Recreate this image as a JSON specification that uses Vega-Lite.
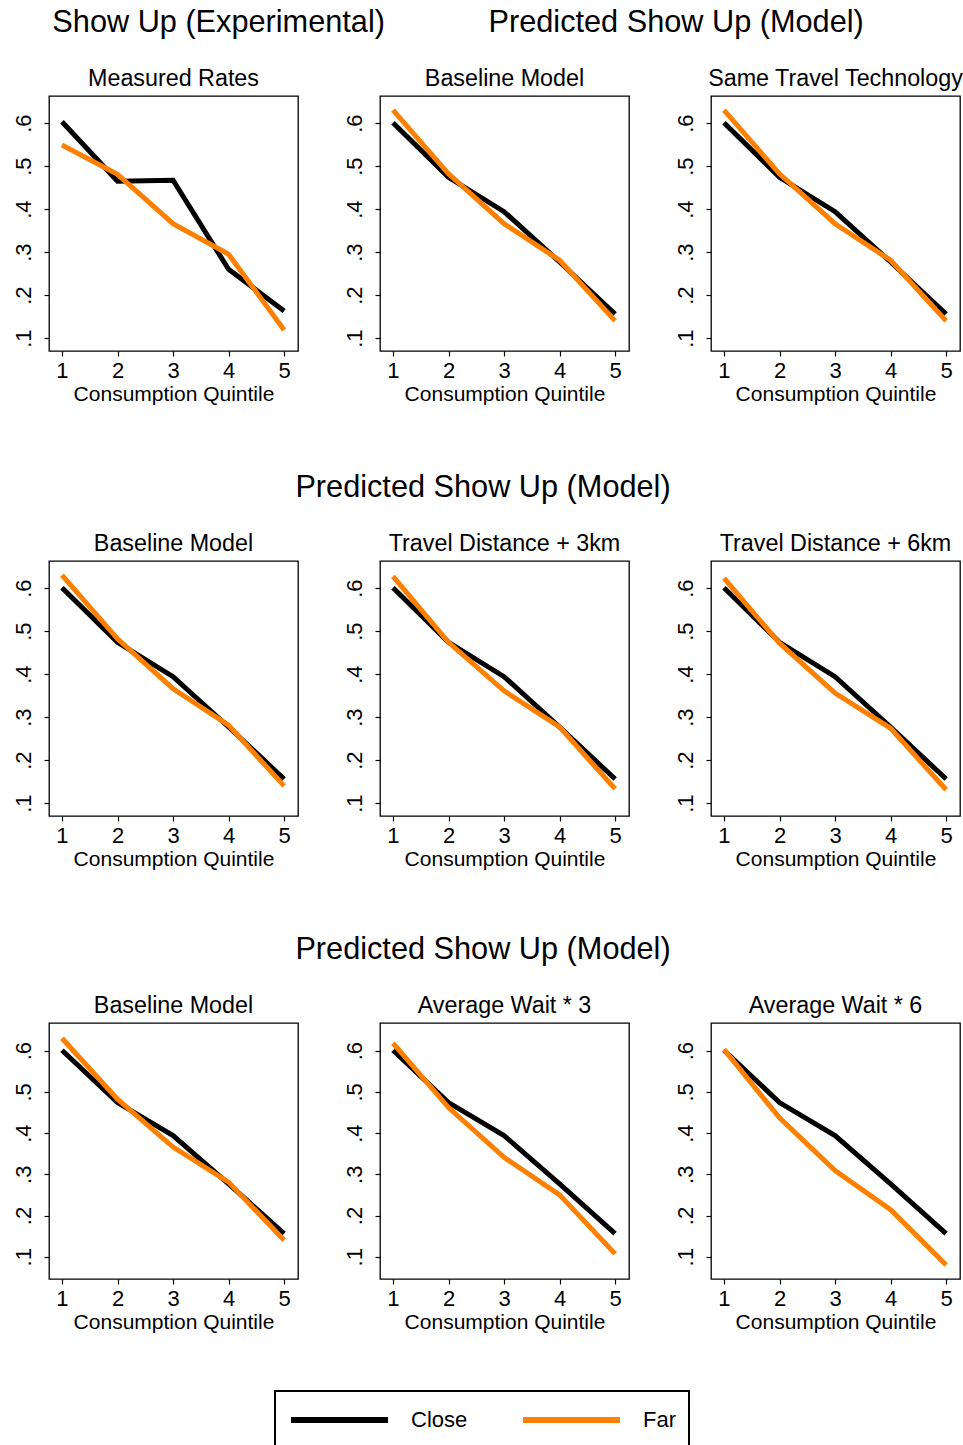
{
  "$schema": "https://vega.github.io/schema/vega-lite/v6.json",
  "background": "white",
  "padding": {"left": 11, "top": 6, "right": 0, "bottom": 0},
  "config": {
    "font": "Liberation Sans",
    "view": {"stroke": "black", "strokeWidth": 1.3},
    "axis": {"grid": false, "domain": false, "tickColor": "black", "tickSize": 5, "tickWidth": 1.2, "labelColor": "black", "labelFontSize": 22, "titleFontSize": 21, "titleFontWeight": "normal", "titleColor": "black", "labelFont": "Liberation Sans", "titleFont": "Liberation Sans"},
    "title": {"color": "black", "fontWeight": "normal", "font": "Liberation Sans"},
    "legend": {"labelFont": "Liberation Sans", "strokeWidth": 2}
  },
  "data": {"values": [
    {"panel": "r1c1", "location": "Close", "quintile": 1, "rate": 0.603},
    {"panel": "r1c1", "location": "Close", "quintile": 2, "rate": 0.465},
    {"panel": "r1c1", "location": "Close", "quintile": 3, "rate": 0.467},
    {"panel": "r1c1", "location": "Close", "quintile": 4, "rate": 0.260},
    {"panel": "r1c1", "location": "Close", "quintile": 5, "rate": 0.163},
    {"panel": "r1c1", "location": "Far", "quintile": 1, "rate": 0.549},
    {"panel": "r1c1", "location": "Far", "quintile": 2, "rate": 0.481},
    {"panel": "r1c1", "location": "Far", "quintile": 3, "rate": 0.366},
    {"panel": "r1c1", "location": "Far", "quintile": 4, "rate": 0.295},
    {"panel": "r1c1", "location": "Far", "quintile": 5, "rate": 0.119},

    {"panel": "r1c2", "location": "Close", "quintile": 1, "rate": 0.601},
    {"panel": "r1c2", "location": "Close", "quintile": 2, "rate": 0.474},
    {"panel": "r1c2", "location": "Close", "quintile": 3, "rate": 0.394},
    {"panel": "r1c2", "location": "Close", "quintile": 4, "rate": 0.277},
    {"panel": "r1c2", "location": "Close", "quintile": 5, "rate": 0.156},
    {"panel": "r1c2", "location": "Far", "quintile": 1, "rate": 0.630},
    {"panel": "r1c2", "location": "Far", "quintile": 2, "rate": 0.482},
    {"panel": "r1c2", "location": "Far", "quintile": 3, "rate": 0.366},
    {"panel": "r1c2", "location": "Far", "quintile": 4, "rate": 0.281},
    {"panel": "r1c2", "location": "Far", "quintile": 5, "rate": 0.140},

    {"panel": "r1c3", "location": "Close", "quintile": 1, "rate": 0.601},
    {"panel": "r1c3", "location": "Close", "quintile": 2, "rate": 0.474},
    {"panel": "r1c3", "location": "Close", "quintile": 3, "rate": 0.394},
    {"panel": "r1c3", "location": "Close", "quintile": 4, "rate": 0.277},
    {"panel": "r1c3", "location": "Close", "quintile": 5, "rate": 0.156},
    {"panel": "r1c3", "location": "Far", "quintile": 1, "rate": 0.630},
    {"panel": "r1c3", "location": "Far", "quintile": 2, "rate": 0.482},
    {"panel": "r1c3", "location": "Far", "quintile": 3, "rate": 0.366},
    {"panel": "r1c3", "location": "Far", "quintile": 4, "rate": 0.281},
    {"panel": "r1c3", "location": "Far", "quintile": 5, "rate": 0.140},

    {"panel": "r2c1", "location": "Close", "quintile": 1, "rate": 0.601},
    {"panel": "r2c1", "location": "Close", "quintile": 2, "rate": 0.474},
    {"panel": "r2c1", "location": "Close", "quintile": 3, "rate": 0.394},
    {"panel": "r2c1", "location": "Close", "quintile": 4, "rate": 0.277},
    {"panel": "r2c1", "location": "Close", "quintile": 5, "rate": 0.156},
    {"panel": "r2c1", "location": "Far", "quintile": 1, "rate": 0.630},
    {"panel": "r2c1", "location": "Far", "quintile": 2, "rate": 0.482},
    {"panel": "r2c1", "location": "Far", "quintile": 3, "rate": 0.366},
    {"panel": "r2c1", "location": "Far", "quintile": 4, "rate": 0.281},
    {"panel": "r2c1", "location": "Far", "quintile": 5, "rate": 0.140},

    {"panel": "r2c2", "location": "Close", "quintile": 1, "rate": 0.601},
    {"panel": "r2c2", "location": "Close", "quintile": 2, "rate": 0.474},
    {"panel": "r2c2", "location": "Close", "quintile": 3, "rate": 0.394},
    {"panel": "r2c2", "location": "Close", "quintile": 4, "rate": 0.277},
    {"panel": "r2c2", "location": "Close", "quintile": 5, "rate": 0.156},
    {"panel": "r2c2", "location": "Far", "quintile": 1, "rate": 0.627},
    {"panel": "r2c2", "location": "Far", "quintile": 2, "rate": 0.474},
    {"panel": "r2c2", "location": "Far", "quintile": 3, "rate": 0.361},
    {"panel": "r2c2", "location": "Far", "quintile": 4, "rate": 0.277},
    {"panel": "r2c2", "location": "Far", "quintile": 5, "rate": 0.133},

    {"panel": "r2c3", "location": "Close", "quintile": 1, "rate": 0.601},
    {"panel": "r2c3", "location": "Close", "quintile": 2, "rate": 0.474},
    {"panel": "r2c3", "location": "Close", "quintile": 3, "rate": 0.394},
    {"panel": "r2c3", "location": "Close", "quintile": 4, "rate": 0.277},
    {"panel": "r2c3", "location": "Close", "quintile": 5, "rate": 0.156},
    {"panel": "r2c3", "location": "Far", "quintile": 1, "rate": 0.623},
    {"panel": "r2c3", "location": "Far", "quintile": 2, "rate": 0.472},
    {"panel": "r2c3", "location": "Far", "quintile": 3, "rate": 0.356},
    {"panel": "r2c3", "location": "Far", "quintile": 4, "rate": 0.274},
    {"panel": "r2c3", "location": "Far", "quintile": 5, "rate": 0.131},

    {"panel": "r3c1", "location": "Close", "quintile": 1, "rate": 0.601},
    {"panel": "r3c1", "location": "Close", "quintile": 2, "rate": 0.474},
    {"panel": "r3c1", "location": "Close", "quintile": 3, "rate": 0.394},
    {"panel": "r3c1", "location": "Close", "quintile": 4, "rate": 0.277},
    {"panel": "r3c1", "location": "Close", "quintile": 5, "rate": 0.156},
    {"panel": "r3c1", "location": "Far", "quintile": 1, "rate": 0.630},
    {"panel": "r3c1", "location": "Far", "quintile": 2, "rate": 0.482},
    {"panel": "r3c1", "location": "Far", "quintile": 3, "rate": 0.366},
    {"panel": "r3c1", "location": "Far", "quintile": 4, "rate": 0.281},
    {"panel": "r3c1", "location": "Far", "quintile": 5, "rate": 0.140},

    {"panel": "r3c2", "location": "Close", "quintile": 1, "rate": 0.601},
    {"panel": "r3c2", "location": "Close", "quintile": 2, "rate": 0.474},
    {"panel": "r3c2", "location": "Close", "quintile": 3, "rate": 0.394},
    {"panel": "r3c2", "location": "Close", "quintile": 4, "rate": 0.277},
    {"panel": "r3c2", "location": "Close", "quintile": 5, "rate": 0.156},
    {"panel": "r3c2", "location": "Far", "quintile": 1, "rate": 0.618},
    {"panel": "r3c2", "location": "Far", "quintile": 2, "rate": 0.462},
    {"panel": "r3c2", "location": "Far", "quintile": 3, "rate": 0.341},
    {"panel": "r3c2", "location": "Far", "quintile": 4, "rate": 0.250},
    {"panel": "r3c2", "location": "Far", "quintile": 5, "rate": 0.107},

    {"panel": "r3c3", "location": "Close", "quintile": 1, "rate": 0.601},
    {"panel": "r3c3", "location": "Close", "quintile": 2, "rate": 0.474},
    {"panel": "r3c3", "location": "Close", "quintile": 3, "rate": 0.394},
    {"panel": "r3c3", "location": "Close", "quintile": 4, "rate": 0.277},
    {"panel": "r3c3", "location": "Close", "quintile": 5, "rate": 0.156},
    {"panel": "r3c3", "location": "Far", "quintile": 1, "rate": 0.603},
    {"panel": "r3c3", "location": "Far", "quintile": 2, "rate": 0.437},
    {"panel": "r3c3", "location": "Far", "quintile": 3, "rate": 0.309},
    {"panel": "r3c3", "location": "Far", "quintile": 4, "rate": 0.214},
    {"panel": "r3c3", "location": "Far", "quintile": 5, "rate": 0.080}
  ]},
  "spacing": 67,
  "vconcat": [
    {
      "title": {"text": "Show Up (Experimental)", "anchor": "start", "dx": 41, "fontSize": 30.7, "baseline": "alphabetic", "offset": -55},
      "spacing": 43,
      "hconcat": [
        {
          "title": {"text": "Measured Rates", "fontSize": 23.3, "baseline": "alphabetic", "offset": -13},
          "width": 249, "height": 255,
          "transform": [{"filter": "datum.panel === 'r1c1'"}],
          "mark": {"type": "line", "strokeWidth": 5},
          "encoding": {
            "x": {"field": "quintile", "type": "quantitative", "scale": {"domain": [0.766, 5.25], "nice": false, "zero": false}, "axis": {"values": [1, 2, 3, 4, 5], "format": "d", "title": "Consumption Quintile", "labelPadding": 4, "titlePadding": 2}},
            "y": {"field": "rate", "type": "quantitative", "scale": {"domain": [0.07, 0.663], "nice": false, "zero": false}, "axis": {"values": [0.1, 0.2, 0.3, 0.4, 0.5, 0.6], "title": null, "labelAngle": 270, "labelPadding": 9, "labelExpr": "replace(format(datum.value, '.1f'), '0.', '.')"}},
            "color": {"field": "location", "type": "nominal", "scale": {"domain": ["Close", "Far"], "range": ["#000000", "#ff8000"]}, "legend": {"title": null, "orient": "none", "legendX": 226, "legendY": 1295, "direction": "horizontal", "symbolType": "stroke", "symbolSize": 9409, "symbolStrokeWidth": 6, "clipHeight": 32, "labelFontSize": 22, "labelColor": "black", "labelOffset": 20, "columnPadding": 52, "padding": 13, "strokeColor": "black"}}
          }
        },
        {
          "title": {"text": "Predicted Show Up (Model)", "anchor": "middle", "dx": 23, "fontSize": 30.7, "baseline": "alphabetic", "offset": 3},
          "spacing": 43,
          "hconcat": [
            {
              "title": {"text": "Baseline Model", "fontSize": 23.3, "baseline": "alphabetic", "offset": -13},
              "width": 249, "height": 255,
              "transform": [{"filter": "datum.panel === 'r1c2'"}],
              "mark": {"type": "line", "strokeWidth": 5},
              "encoding": {
                "x": {"field": "quintile", "type": "quantitative", "scale": {"domain": [0.766, 5.25], "nice": false, "zero": false}, "axis": {"values": [1, 2, 3, 4, 5], "format": "d", "title": "Consumption Quintile", "labelPadding": 4, "titlePadding": 2}},
                "y": {"field": "rate", "type": "quantitative", "scale": {"domain": [0.07, 0.663], "nice": false, "zero": false}, "axis": {"values": [0.1, 0.2, 0.3, 0.4, 0.5, 0.6], "title": null, "labelAngle": 270, "labelPadding": 9, "labelExpr": "replace(format(datum.value, '.1f'), '0.', '.')"}},
                "color": {"field": "location", "type": "nominal", "scale": {"domain": ["Close", "Far"], "range": ["#000000", "#ff8000"]}}
              }
            },
            {
              "title": {"text": "Same Travel Technology", "fontSize": 23.3, "baseline": "alphabetic", "offset": -13},
              "width": 249, "height": 255,
              "transform": [{"filter": "datum.panel === 'r1c3'"}],
              "mark": {"type": "line", "strokeWidth": 5},
              "encoding": {
                "x": {"field": "quintile", "type": "quantitative", "scale": {"domain": [0.766, 5.25], "nice": false, "zero": false}, "axis": {"values": [1, 2, 3, 4, 5], "format": "d", "title": "Consumption Quintile", "labelPadding": 4, "titlePadding": 2}},
                "y": {"field": "rate", "type": "quantitative", "scale": {"domain": [0.07, 0.663], "nice": false, "zero": false}, "axis": {"values": [0.1, 0.2, 0.3, 0.4, 0.5, 0.6], "title": null, "labelAngle": 270, "labelPadding": 9, "labelExpr": "replace(format(datum.value, '.1f'), '0.', '.')"}},
                "color": {"field": "location", "type": "nominal", "scale": {"domain": ["Close", "Far"], "range": ["#000000", "#ff8000"]}}
              }
            }
          ]
        }
      ]
    },
    {
      "spacing": 64,
      "vconcat": [
        {
          "title": {"text": "Predicted Show Up (Model)", "anchor": "middle", "dx": -3, "fontSize": 30.7, "baseline": "alphabetic", "offset": 3},
          "spacing": 43,
          "hconcat": [
            {
              "title": {"text": "Baseline Model", "fontSize": 23.3, "baseline": "alphabetic", "offset": -13},
              "width": 249, "height": 255,
              "transform": [{"filter": "datum.panel === 'r2c1'"}],
              "mark": {"type": "line", "strokeWidth": 5},
              "encoding": {
                "x": {"field": "quintile", "type": "quantitative", "scale": {"domain": [0.766, 5.25], "nice": false, "zero": false}, "axis": {"values": [1, 2, 3, 4, 5], "format": "d", "title": "Consumption Quintile", "labelPadding": 4, "titlePadding": 2}},
                "y": {"field": "rate", "type": "quantitative", "scale": {"domain": [0.07, 0.663], "nice": false, "zero": false}, "axis": {"values": [0.1, 0.2, 0.3, 0.4, 0.5, 0.6], "title": null, "labelAngle": 270, "labelPadding": 9, "labelExpr": "replace(format(datum.value, '.1f'), '0.', '.')"}},
                "color": {"field": "location", "type": "nominal", "scale": {"domain": ["Close", "Far"], "range": ["#000000", "#ff8000"]}}
              }
            },
            {
              "title": {"text": "Travel Distance + 3km", "fontSize": 23.3, "baseline": "alphabetic", "offset": -13},
              "width": 249, "height": 255,
              "transform": [{"filter": "datum.panel === 'r2c2'"}],
              "mark": {"type": "line", "strokeWidth": 5},
              "encoding": {
                "x": {"field": "quintile", "type": "quantitative", "scale": {"domain": [0.766, 5.25], "nice": false, "zero": false}, "axis": {"values": [1, 2, 3, 4, 5], "format": "d", "title": "Consumption Quintile", "labelPadding": 4, "titlePadding": 2}},
                "y": {"field": "rate", "type": "quantitative", "scale": {"domain": [0.07, 0.663], "nice": false, "zero": false}, "axis": {"values": [0.1, 0.2, 0.3, 0.4, 0.5, 0.6], "title": null, "labelAngle": 270, "labelPadding": 9, "labelExpr": "replace(format(datum.value, '.1f'), '0.', '.')"}},
                "color": {"field": "location", "type": "nominal", "scale": {"domain": ["Close", "Far"], "range": ["#000000", "#ff8000"]}}
              }
            },
            {
              "title": {"text": "Travel Distance + 6km", "fontSize": 23.3, "baseline": "alphabetic", "offset": -13},
              "width": 249, "height": 255,
              "transform": [{"filter": "datum.panel === 'r2c3'"}],
              "mark": {"type": "line", "strokeWidth": 5},
              "encoding": {
                "x": {"field": "quintile", "type": "quantitative", "scale": {"domain": [0.766, 5.25], "nice": false, "zero": false}, "axis": {"values": [1, 2, 3, 4, 5], "format": "d", "title": "Consumption Quintile", "labelPadding": 4, "titlePadding": 2}},
                "y": {"field": "rate", "type": "quantitative", "scale": {"domain": [0.07, 0.663], "nice": false, "zero": false}, "axis": {"values": [0.1, 0.2, 0.3, 0.4, 0.5, 0.6], "title": null, "labelAngle": 270, "labelPadding": 9, "labelExpr": "replace(format(datum.value, '.1f'), '0.', '.')"}},
                "color": {"field": "location", "type": "nominal", "scale": {"domain": ["Close", "Far"], "range": ["#000000", "#ff8000"]}}
              }
            }
          ]
        },
        {
          "title": {"text": "Predicted Show Up (Model)", "anchor": "middle", "dx": -3, "fontSize": 30.7, "baseline": "alphabetic", "offset": 3},
          "spacing": 43,
          "hconcat": [
            {
              "title": {"text": "Baseline Model", "fontSize": 23.3, "baseline": "alphabetic", "offset": -13},
              "width": 249, "height": 256,
              "transform": [{"filter": "datum.panel === 'r3c1'"}],
              "mark": {"type": "line", "strokeWidth": 5},
              "encoding": {
                "x": {"field": "quintile", "type": "quantitative", "scale": {"domain": [0.766, 5.25], "nice": false, "zero": false}, "axis": {"values": [1, 2, 3, 4, 5], "format": "d", "title": "Consumption Quintile", "labelPadding": 4, "titlePadding": 2}},
                "y": {"field": "rate", "type": "quantitative", "scale": {"domain": [0.046, 0.667], "nice": false, "zero": false}, "axis": {"values": [0.1, 0.2, 0.3, 0.4, 0.5, 0.6], "title": null, "labelAngle": 270, "labelPadding": 9, "labelExpr": "replace(format(datum.value, '.1f'), '0.', '.')"}},
                "color": {"field": "location", "type": "nominal", "scale": {"domain": ["Close", "Far"], "range": ["#000000", "#ff8000"]}}
              }
            },
            {
              "title": {"text": "Average Wait * 3", "fontSize": 23.3, "baseline": "alphabetic", "offset": -13},
              "width": 249, "height": 256,
              "transform": [{"filter": "datum.panel === 'r3c2'"}],
              "mark": {"type": "line", "strokeWidth": 5},
              "encoding": {
                "x": {"field": "quintile", "type": "quantitative", "scale": {"domain": [0.766, 5.25], "nice": false, "zero": false}, "axis": {"values": [1, 2, 3, 4, 5], "format": "d", "title": "Consumption Quintile", "labelPadding": 4, "titlePadding": 2}},
                "y": {"field": "rate", "type": "quantitative", "scale": {"domain": [0.046, 0.667], "nice": false, "zero": false}, "axis": {"values": [0.1, 0.2, 0.3, 0.4, 0.5, 0.6], "title": null, "labelAngle": 270, "labelPadding": 9, "labelExpr": "replace(format(datum.value, '.1f'), '0.', '.')"}},
                "color": {"field": "location", "type": "nominal", "scale": {"domain": ["Close", "Far"], "range": ["#000000", "#ff8000"]}}
              }
            },
            {
              "title": {"text": "Average Wait * 6", "fontSize": 23.3, "baseline": "alphabetic", "offset": -13},
              "width": 249, "height": 256,
              "transform": [{"filter": "datum.panel === 'r3c3'"}],
              "mark": {"type": "line", "strokeWidth": 5},
              "encoding": {
                "x": {"field": "quintile", "type": "quantitative", "scale": {"domain": [0.766, 5.25], "nice": false, "zero": false}, "axis": {"values": [1, 2, 3, 4, 5], "format": "d", "title": "Consumption Quintile", "labelPadding": 4, "titlePadding": 2}},
                "y": {"field": "rate", "type": "quantitative", "scale": {"domain": [0.046, 0.667], "nice": false, "zero": false}, "axis": {"values": [0.1, 0.2, 0.3, 0.4, 0.5, 0.6], "title": null, "labelAngle": 270, "labelPadding": 9, "labelExpr": "replace(format(datum.value, '.1f'), '0.', '.')"}},
                "color": {"field": "location", "type": "nominal", "scale": {"domain": ["Close", "Far"], "range": ["#000000", "#ff8000"]}}
              }
            }
          ]
        }
      ]
    }
  ],
  "resolve": {"scale": {"color": "shared"}}
}
